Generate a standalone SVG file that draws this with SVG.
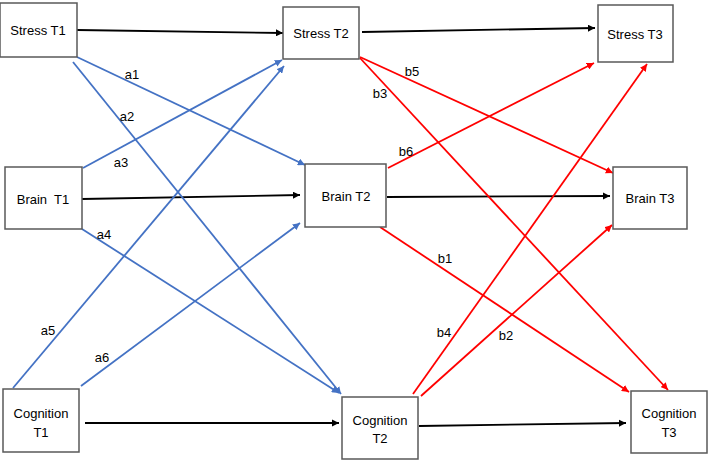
<svg xmlns="http://www.w3.org/2000/svg" width="709" height="460" viewBox="0 0 709 460">
<style>
.box{fill:#fff;stroke:#595959;stroke-width:1.5}
.t{font-family:"Liberation Sans",Arial,sans-serif;font-size:13px;fill:#000;text-anchor:middle}
.l{font-family:"Liberation Sans",Arial,sans-serif;font-size:13px;fill:#000;text-anchor:middle}
.k{stroke:#000;stroke-width:1.8;fill:none}
.b{stroke:#4472C4;stroke-width:1.8;fill:none}
.r{stroke:#FF0000;stroke-width:1.8;fill:none}
</style>
<defs>
<marker id="mk" viewBox="0 0 10 10" refX="10" refY="5" markerWidth="4" markerHeight="4" orient="auto" markerUnits="strokeWidth"><path d="M0,0 L10,5 L0,10 z" fill="#000"/></marker>
<marker id="mb" viewBox="0 0 10 10" refX="10" refY="5" markerWidth="4" markerHeight="4" orient="auto" markerUnits="strokeWidth"><path d="M0,0 L10,5 L0,10 z" fill="#4472C4"/></marker>
<marker id="mr" viewBox="0 0 10 10" refX="10" refY="5" markerWidth="4" markerHeight="4" orient="auto" markerUnits="strokeWidth"><path d="M0,0 L10,5 L0,10 z" fill="#FF0000"/></marker>
</defs>
<rect width="709" height="460" fill="#fff"/>
<g id="connectors">
<line class="k" x1="77" y1="30" x2="283" y2="33" marker-end="url(#mk)"/>
<line class="k" x1="362" y1="32" x2="595" y2="28" marker-end="url(#mk)"/>
<line class="k" x1="82" y1="199" x2="300" y2="195" marker-end="url(#mk)"/>
<line class="k" x1="387" y1="197" x2="610" y2="196" marker-end="url(#mk)"/>
<line class="k" x1="85" y1="423" x2="339" y2="423" marker-end="url(#mk)"/>
<line class="k" x1="419" y1="426" x2="626" y2="423" marker-end="url(#mk)"/>
<line class="b" x1="77" y1="57" x2="305" y2="165" marker-end="url(#mb)"/>
<line class="b" x1="73" y1="62" x2="341" y2="394" marker-end="url(#mb)"/>
<line class="b" x1="83" y1="168" x2="282" y2="60" marker-end="url(#mb)"/>
<line class="b" x1="82" y1="229" x2="339" y2="393" marker-end="url(#mb)"/>
<line class="b" x1="13" y1="388" x2="284" y2="66" marker-end="url(#mb)"/>
<line class="b" x1="81" y1="386" x2="300" y2="223" marker-end="url(#mb)"/>
<line class="r" x1="360" y1="57" x2="613" y2="173" marker-end="url(#mr)"/>
<line class="r" x1="360" y1="58" x2="668" y2="390" marker-end="url(#mr)"/>
<line class="r" x1="388" y1="168" x2="594" y2="63" marker-end="url(#mr)"/>
<line class="r" x1="380" y1="227" x2="629" y2="392" marker-end="url(#mr)"/>
<line class="r" x1="413" y1="394" x2="647" y2="64" marker-end="url(#mr)"/>
<line class="r" x1="421" y1="396" x2="612" y2="225" marker-end="url(#mr)"/>
<text class="l" x="132" y="79">a1</text>
<text class="l" x="127" y="121">a2</text>
<text class="l" x="121" y="167">a3</text>
<text class="l" x="104" y="239">a4</text>
<text class="l" x="48" y="335">a5</text>
<text class="l" x="102" y="362">a6</text>
<text class="l" x="412" y="76">b5</text>
<text class="l" x="380" y="98">b3</text>
<text class="l" x="406" y="156">b6</text>
<text class="l" x="445" y="263">b1</text>
<text class="l" x="444" y="337">b4</text>
<text class="l" x="506" y="340">b2</text>
</g>
<g id="stress-t1"><rect class="box" x="0" y="3" width="77" height="54"/><text class="t" x="38" y="35">Stress T1</text></g>
<g id="stress-t2"><rect class="box" x="283" y="7" width="76" height="52"/><text class="t" x="321" y="38">Stress T2</text></g>
<g id="stress-t3"><rect class="box" x="598" y="5" width="75" height="57"/><text class="t" x="635" y="39">Stress T3</text></g>
<g id="brain-t1"><rect class="box" x="5" y="167" width="77" height="62"/><text class="t" x="43" y="204" xml:space="preserve">Brain  T1</text></g>
<g id="brain-t2"><rect class="box" x="305" y="164" width="81" height="63"/><text class="t" x="346" y="201">Brain T2</text></g>
<g id="brain-t3"><rect class="box" x="613" y="167" width="74" height="62"/><text class="t" x="650" y="203">Brain T3</text></g>
<g id="cognition-t1"><rect class="box" x="3" y="389" width="76" height="63"/><text class="t" x="41" y="418">Cognition</text><text class="t" x="41" y="437">T1</text></g>
<g id="cognition-t2"><rect class="box" x="342" y="397" width="76" height="62"/><text class="t" x="380" y="425">Cognition</text><text class="t" x="380" y="443">T2</text></g>
<g id="cognition-t3"><rect class="box" x="631" y="391" width="76" height="62"/><text class="t" x="669" y="418">Cognition</text><text class="t" x="669" y="437">T3</text></g>
</svg>
